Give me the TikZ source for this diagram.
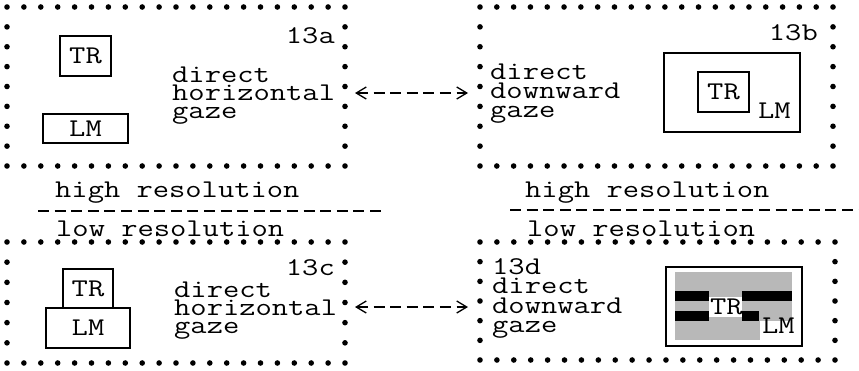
\documentclass[tikz,border=0pt]{standalone}
\usepackage{fontspec}
\newfontfamily\cour{Latin Modern Mono}[FakeStretch=1.24]
\usetikzlibrary{calc,arrows.meta}
\newcommand\dotframe[4]{% node, x-intervals, y-intervals, y-intervals minus one
  \foreach \i in {0,...,#2}{%
    \fill ($(#1.north west)!\i/#2!(#1.north east)$) circle[radius=2.8pt];
    \fill ($(#1.south west)!\i/#2!(#1.south east)$) circle[radius=2.8pt];}
  \foreach \j in {1,...,#4}{%
    \fill ($(#1.north west)!\j/#3!(#1.south west)$) circle[radius=2.8pt];
    \fill ($(#1.north east)!\j/#3!(#1.south east)$) circle[radius=2.8pt];}
}
\tikzset{
  txt/.style={inner sep=0pt, anchor=base west, font=\cour\fontsize{25.5}{18}\selectfont},
  txtr/.style={txt, anchor=base east},
  frame/.style={inner sep=0pt, outer sep=0pt},
  boxn/.style={draw, line width=1.2pt, inner sep=0pt, font=\cour\fontsize{25.5}{18}\selectfont},
  conn/.style={line width=1.3pt, dash pattern=on 11pt off 5.6pt,
    {Straight Barb[length=10pt,width=12pt,line width=1.3pt]}-{Straight Barb[length=10pt,width=12pt,line width=1.3pt]}},
  divider/.style={line width=1.3pt, dash pattern=on 11pt off 5.6pt}
}
\begin{document}
\begin{tikzpicture}[x=1pt,y=-1pt]
\useasboundingbox (0,0) rectangle (859,370);
% frames
\node[frame, minimum width=338pt, minimum height=159pt] (fa) at (176,86.5) {};
\node[frame, minimum width=353pt, minimum height=159pt] (fb) at (656.5,86.5) {};
\node[frame, minimum width=338pt, minimum height=121pt] (fc) at (176,302.5) {};
\node[frame, minimum width=355pt, minimum height=118pt] (fd) at (657.5,301) {};
\dotframe{fa}{20}{8}{7}
\dotframe{fb}{21}{8}{7}
\dotframe{fc}{20}{6}{5}
\dotframe{fd}{21}{6}{5}
% 13a
\node[txtr] (la) at (335,43) {13a};
\node[boxn, minimum width=51pt, minimum height=40pt] (tra) at (85.5,56) {TR};
\node[boxn, minimum width=85pt, minimum height=29pt] (lma) at (85.5,128.5) {LM};
\node[txt] (a1) at (172,82) {direct};
\node[txt] (a2) at (172,100) {horizontal};
\node[txt] (a3) at (172,118) {gaze};
% 13b
\node[txtr] (lb) at (818,40) {13b};
\node[txt] (b1) at (490,79) {direct};
\node[txt] (b2) at (490,98) {downward};
\node[txt] (b3) at (490,117) {gaze};
\node[draw, line width=1.2pt, inner sep=0pt, minimum width=136pt, minimum height=79pt] (lmb) at (732,92.5) {};
\node[boxn, minimum width=51pt, minimum height=40pt] (trb) at (723.5,92) {TR};
\node[txt] (lmbt) at (758,118) {LM};
% middle labels
\node[txt] (hl) at (55,197) {high resolution};
\node[txt] (ll) at (56,236) {low resolution};
\node[txt] (hr) at (525,197) {high resolution};
\node[txt] (lr) at (527,236) {low resolution};
\coordinate (dl1) at (38,211);
\coordinate (dl2) at (383,211);
\coordinate (dr1) at (510,210);
\coordinate (dr2) at (859,210);
\draw[divider] (dl1) -- (dl2);
\draw[divider] (dr1) -- (dr2);
% 13c
\node[txtr] (lc) at (335,275) {13c};
\node[boxn, minimum width=50pt, minimum height=39pt] (trc) at (88,288.5) {TR};
\node[boxn, minimum width=84pt, minimum height=40pt] (lmc) at (88,328) {LM};
\node[txt] (c1) at (174,297) {direct};
\node[txt] (c2) at (174,315) {horizontal};
\node[txt] (c3) at (174,333) {gaze};
% 13d
\node[txt] (ld) at (492,274) {13d};
\node[txt] (d1) at (492,293) {direct};
\node[txt] (d2) at (492,313) {downward};
\node[txt] (d3) at (492,332) {gaze};
\node[draw, line width=1.2pt, inner sep=0pt, minimum width=136pt, minimum height=79pt] (boxd) at (734,306.5) {};
\fill[black!28] (675,272) rectangle (792,340);
\fill[white] (760,321) rectangle (792,340);
\fill[white] (709,297) rectangle (742,317);
\fill[black] (675,291) rectangle (709,301);
\fill[black] (742,291) rectangle (792,301);
\fill[black] (675,311) rectangle (709,321);
\fill[black] (742,311) rectangle (759,321);
\node[txt] (trd) at (710,314) {TR};
\node[txt] (lmd) at (762,333) {LM};
% connectors
\draw[conn, shorten <=10pt, shorten >=12pt] ([yshift=-6.5pt]fa.east) -- ([yshift=-6.5pt]fa.east -| fb.west);
\draw[conn, shorten <=10pt, shorten >=12pt] ([yshift=-4.5pt]fc.east) -- ([yshift=-4.5pt]fc.east -| fd.west);
\end{tikzpicture}
\end{document}
